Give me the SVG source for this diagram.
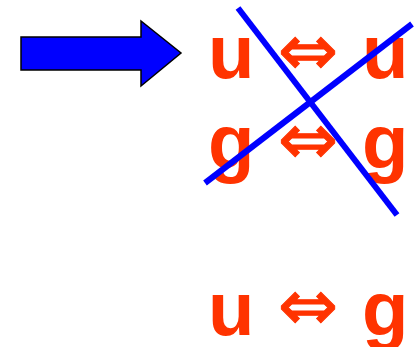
<svg xmlns="http://www.w3.org/2000/svg" width="419" height="347" viewBox="0 0 419 347">
  <style>
    .sym { font-family: "Liberation Sans", Arial, sans-serif; font-weight: bold; font-size: 76px; fill: #FF3300; }
    .dbl { font-family: "DejaVu Sans", "Liberation Sans", sans-serif; font-size: 72px; fill: #FF3300; stroke: #FF3300; stroke-width: 1; text-anchor: middle; }
    .cross { stroke: #0000FF; stroke-width: 6; fill: none; }
  </style>
  <rect width="419" height="347" fill="#FFFFFF"/>
  <g id="pointer">
    <polygon points="21,37 141,37 141,21 181,53 141,86 141,70 21,70" fill="#0000FF" stroke="#000000" stroke-width="1.5"/>
  </g>
  <g id="row-uu">
    <text class="sym" x="208" y="78">u</text>
    <text class="dbl" x="308" y="75">⇔</text>
    <text class="sym" x="362" y="78">u</text>
  </g>
  <g id="row-gg">
    <text class="sym" x="208" y="168">g</text>
    <text class="dbl" x="308" y="164">⇔</text>
    <text class="sym" x="362" y="168">g</text>
  </g>
  <g id="connectors">
    <line class="cross" x1="238" y1="8" x2="397" y2="215"/>
    <line class="cross" x1="205" y1="183" x2="412" y2="24"/>
  </g>
  <g id="row-ug">
    <text class="sym" x="208" y="335">u</text>
    <text class="dbl" x="308" y="330">⇔</text>
    <text class="sym" x="362" y="335">g</text>
  </g>
</svg>
